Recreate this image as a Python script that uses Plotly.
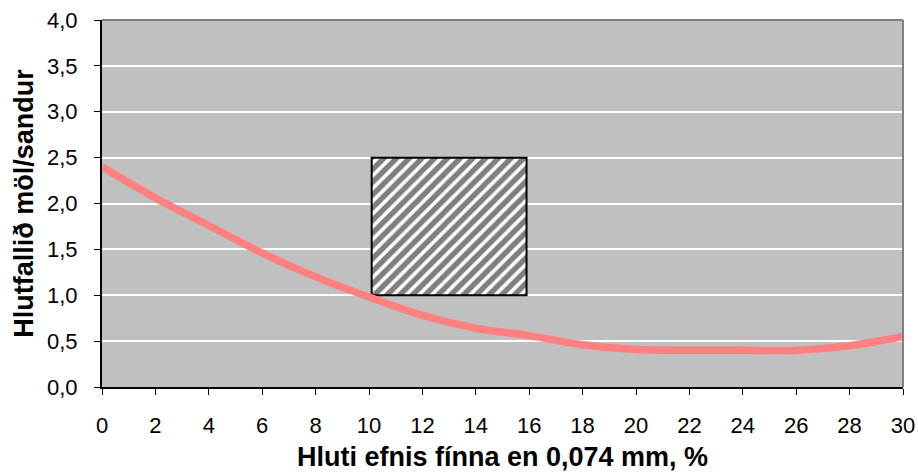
import plotly.graph_objects as go

x_vals = [0, 2, 4, 6, 8, 10, 12, 14, 16, 18, 20, 22, 24, 26, 28, 30]
ratio_vals = [2.40, 2.06, 1.76, 1.46, 1.20, 0.98, 0.78, 0.64, 0.56, 0.46, 0.41, 0.40, 0.40, 0.40, 0.45, 0.55]

box_x = [10.1, 15.9]
box_y = [1.0, 2.5]

y_ticks = [0, 0.5, 1.0, 1.5, 2.0, 2.5, 3.0, 3.5, 4.0]
y_tick_text = ["0,0", "0,5", "1,0", "1,5", "2,0", "2,5", "3,0", "3,5", "4,0"]
x_ticks = list(range(0, 31, 2))

fig = go.Figure()

fig.add_trace(go.Scatter(
    x=[box_x[0], box_x[1], box_x[1], box_x[0], box_x[0]],
    y=[box_y[0], box_y[0], box_y[1], box_y[1], box_y[0]],
    mode="lines", fill="toself",
    fillpattern=dict(shape="/", bgcolor="white", fgcolor="black", size=9, solidity=0.6),
    line=dict(color="black", width=2),
    hoverinfo="skip", showlegend=False,
))

fig.add_trace(go.Scatter(
    x=x_vals, y=ratio_vals, mode="lines",
    line=dict(color="#FF8080", width=7.5, shape="spline", smoothing=1.0),
    showlegend=False,
))

font_family = "Liberation Sans, Arial, sans-serif"

fig.update_layout(
    width=918, height=474,
    margin=dict(l=102, r=15, t=20, b=87),
    paper_bgcolor="white", plot_bgcolor="#C0C0C0",
    font=dict(family=font_family, size=22, color="black"),
    xaxis=dict(
        range=[0, 30], tickvals=x_ticks, ticks="outside", ticklen=6, tickcolor="black",
        tickfont=dict(size=22),
        showgrid=False, zeroline=False, showline=True, linecolor="black", linewidth=2,
        mirror=False, ticklabelstandoff=12, automargin=False,
        title=dict(text="<b>Hluti efnis fínna en 0,074 mm, %</b>", font=dict(size=27), standoff=10),
    ),
    yaxis=dict(
        range=[0, 4.0], tickvals=y_ticks, ticktext=y_tick_text, ticks="outside", ticklen=6,
        tickfont=dict(size=22), automargin=False,
        tickcolor="black", showgrid=True, gridcolor="white", gridwidth=2, zeroline=False,
        showline=True, linecolor="black", linewidth=2, ticklabelstandoff=12,
        title=dict(text="<b>Hlutfallið möl/sandur</b>", font=dict(size=27), standoff=6),
    ),
    shapes=[
        dict(type="line", xref="paper", yref="paper", x0=0, x1=1, y0=1, y1=1,
             line=dict(color="#808080", width=2)),
        dict(type="line", xref="paper", yref="paper", x0=1, x1=1, y0=0, y1=1,
             line=dict(color="#808080", width=2)),
    ],
)

fig.write_html("out.html")
